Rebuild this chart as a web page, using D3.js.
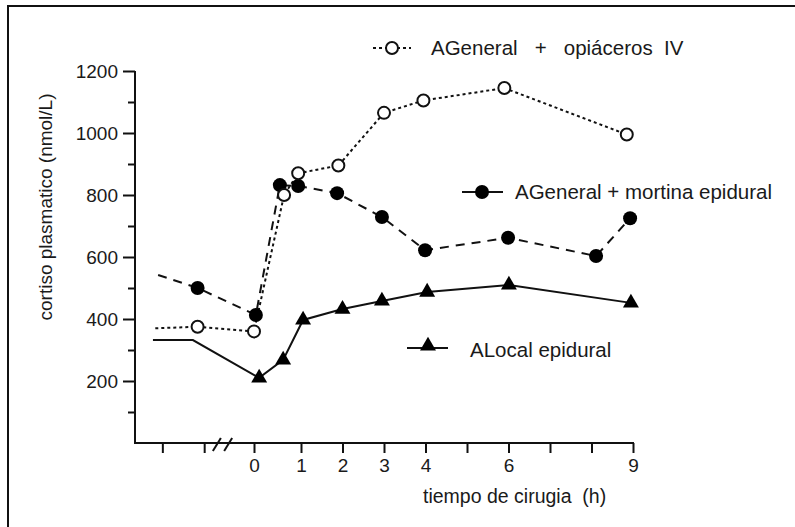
<!DOCTYPE html>
<head>
  <meta charset="utf-8">
  <script src="https://d3js.org/d3.v7.min.js"></script>
  <style>
    body { margin: 0; background: #fff; }
    svg { display: block; }
    text { font-family: "Liberation Sans", Arial, sans-serif; fill: #1a1a1a; }
  </style>
</head>

<body>
  <script type='text/javascript'>

    // ticks
    var xTickHours = [0, 1, 2, 3, 4, 5, 6, 7, 8, 9];
    var xTickLabels = ["0", "1", "2", "3", "4", "", "6", "", "", "9"];
    var preTicks = [-1.95, -1.06];          // before the axis break
    var breakAt = [-0.79, -0.55];
    var yMajor = [200, 400, 600, 800, 1000, 1200];
    var yMinor = [100, 300, 500, 700, 900, 1100];

    // AGeneral + opiáceros IV (open circles)
    var opiLeadX = [-2.1];
    var opiLeadY = [370];
    var opiX = [-1.2, 0, 0.64, 0.94, 1.9, 3.0, 3.95, 5.9, 8.85];
    var opiY = [375, 360, 800, 870, 895, 1065, 1105, 1145, 995];

    // AGeneral + mortina epidural (filled circles)
    var morLeadX = [-2.04];
    var morLeadY = [542];
    var morX = [-1.2, 0.04, 0.55, 0.94, 1.87, 2.95, 3.99, 5.99, 8.11, 8.93];
    var morY = [500, 413, 832, 829, 806, 729, 622, 662, 603, 725];

    // ALocal epidural (triangles)
    var locLeadX = [-2.15, -1.3];
    var locLeadY = [332, 332];
    var locX = [0.11, 0.62, 1.05, 2.0, 2.95, 4.04, 6.01, 8.95];
    var locY = [210, 268, 397, 432, 458, 487, 510, 452];

    var width = 795;
    var height = 527;
    var axisX = 135;   // where the y axis sits

    var svg = d3.select('body')
      .append('svg')
      .attr("width", width)
      .attr("height", height);

    // frame: top and left edges only
    svg.append('line').attr('x1', 8).attr('x2', width).attr('y1', 6).attr('y2', 6)
      .attr('stroke', '#111').attr('stroke-width', 2);
    svg.append('line').attr('x1', 8).attr('x2', 8).attr('y1', 5).attr('y2', height)
      .attr('stroke', '#111').attr('stroke-width', 2);

    // scales (first hour drawn a bit wider than the rest)
    var xScale = d3.scaleLinear()
      .domain([0, 1, 9])
      .range([254, 301, 633]);

    var yScale = d3.scaleLinear()
      .domain([0, 1200])
      .range([443, 71]);

    // y axis
    var yAxis = d3.axisLeft(yScale)
      .tickValues(yMajor)
      .tickSize(12)
      .tickPadding(5)
      .tickFormat(d3.format('d'))
      .tickSizeOuter(0);

    var yg = svg.append('g')
      .attr('transform', 'translate(' + axisX + ',0)')
      .call(yAxis);
    yg.select('.domain').remove();

    var yMinorAxis = d3.axisLeft(yScale)
      .tickValues(yMinor)
      .tickSize(7)
      .tickFormat('');
    var ymg = svg.append('g')
      .attr('transform', 'translate(' + axisX + ',0)')
      .call(yMinorAxis);
    ymg.select('.domain').remove();

    svg.append('line')
      .attr('x1', axisX).attr('x2', axisX)
      .attr('y1', yScale(1200)).attr('y2', yScale(0) + 1)
      .attr('stroke', '#111').attr('stroke-width', 2);

    // x axis
    var xAxis = d3.axisBottom(xScale)
      .tickValues(preTicks.concat(xTickHours))
      .tickSize(10)
      .tickPadding(6)
      .tickFormat(function (d) {
        var i = xTickHours.indexOf(d);
        return i < 0 ? "" : xTickLabels[i];
      });

    var xg = svg.append('g')
      .attr('transform', 'translate(0,' + yScale(0) + ')')
      .call(xAxis);
    xg.select('.domain').remove();

    svg.append('line')
      .attr('x1', axisX - 1).attr('x2', xScale(9) + 1)
      .attr('y1', yScale(0)).attr('y2', yScale(0))
      .attr('stroke', '#111').attr('stroke-width', 2);

    // axis break marks
    breakAt.forEach(function (b) {
      svg.append('line')
        .attr('x1', xScale(b) - 4).attr('x2', xScale(b) + 4)
        .attr('y1', yScale(0) + 8).attr('y2', yScale(0) - 5)
        .attr('stroke', '#111').attr('stroke-width', 2);
    });

    svg.selectAll('.tick line').attr('stroke', '#111').attr('stroke-width', 2);
    svg.selectAll('.tick text')
      .style('font-size', '19px')
      .style('fill', '#1a1a1a');

    // axis titles
    svg.append('text')
      .attr('transform', 'translate(52,207) rotate(-90)')
      .attr('text-anchor', 'middle')
      .style('font-size', '19px')
      .text('cortiso plasmatico (nmol/L)');

    svg.append('text')
      .attr('x', 423)
      .attr('y', 503)
      .style('font-size', '19.5px')
      .style('white-space', 'pre')
      .text('tiempo de cirugia  (h)');

    // series
    function pts(xs, ys) {
      return xs.map(function (d, i) { return [d, ys[i]]; });
    }
    var line = d3.line()
      .x(function (d) { return xScale(d[0]); })
      .y(function (d) { return yScale(d[1]); });

    svg.append('path')
      .datum(pts(locLeadX.concat(locX), locLeadY.concat(locY)))
      .attr('d', line)
      .attr('fill', 'none')
      .attr('stroke', '#111')
      .attr('stroke-width', 2);

    svg.append('path')
      .datum(pts(morLeadX.concat(morX), morLeadY.concat(morY)))
      .attr('d', line)
      .attr('fill', 'none')
      .attr('stroke', '#111')
      .attr('stroke-width', 2)
      .attr('stroke-dasharray', '9,7');

    svg.append('path')
      .datum(pts(opiLeadX.concat(opiX), opiLeadY.concat(opiY)))
      .attr('d', line)
      .attr('fill', 'none')
      .attr('stroke', '#111')
      .attr('stroke-width', 2)
      .attr('stroke-dasharray', '3,3');

    var tri = d3.symbol().type(d3.symbolTriangle).size(110);

    svg.selectAll('.tri')
      .data(pts(locX, locY))
      .enter().append('path')
      .attr('class', 'tri')
      .attr('d', tri)
      .attr('transform', function (d) { return 'translate(' + xScale(d[0]) + ',' + yScale(d[1]) + ')'; })
      .attr('fill', '#000');

    svg.selectAll('.mor')
      .data(pts(morX, morY))
      .enter().append('circle')
      .attr('class', 'mor')
      .attr('cx', function (d) { return xScale(d[0]); })
      .attr('cy', function (d) { return yScale(d[1]); })
      .attr('r', 7)
      .attr('fill', '#000');

    svg.selectAll('.opi')
      .data(pts(opiX, opiY))
      .enter().append('circle')
      .attr('class', 'opi')
      .attr('cx', function (d) { return xScale(d[0]); })
      .attr('cy', function (d) { return yScale(d[1]); })
      .attr('r', 6)
      .attr('fill', '#fff')
      .attr('stroke', '#111')
      .attr('stroke-width', 2);

    // legends
    var lg1 = svg.append('g');
    lg1.append('line').attr('x1', 373).attr('x2', 411).attr('y1', 48).attr('y2', 48)
      .attr('stroke', '#111').attr('stroke-width', 2).attr('stroke-dasharray', '3,3');
    lg1.append('circle').attr('cx', 392).attr('cy', 48).attr('r', 6)
      .attr('fill', '#fff').attr('stroke', '#111').attr('stroke-width', 2);
    lg1.append('text').attr('x', 431).attr('y', 55)
      .style('font-size', '20.5px').style('white-space', 'pre')
      .text('AGeneral   +   opiáceros  IV');

    var lg2 = svg.append('g');
    lg2.append('line').attr('x1', 462).attr('x2', 503).attr('y1', 192).attr('y2', 192)
      .attr('stroke', '#111').attr('stroke-width', 2);
    lg2.append('circle').attr('cx', 482).attr('cy', 192).attr('r', 7).attr('fill', '#000');
    lg2.append('text').attr('x', 515).attr('y', 199)
      .style('font-size', '20.5px')
      .text('AGeneral + mortina epidural');

    var lg3 = svg.append('g');
    lg3.append('line').attr('x1', 407).attr('x2', 448).attr('y1', 348).attr('y2', 348)
      .attr('stroke', '#111').attr('stroke-width', 2);
    lg3.append('path').attr('d', tri).attr('transform', 'translate(428,346)').attr('fill', '#000');
    lg3.append('text').attr('x', 470).attr('y', 357)
      .style('font-size', '20.5px')
      .text('ALocal epidural');

  </script>
</body>
